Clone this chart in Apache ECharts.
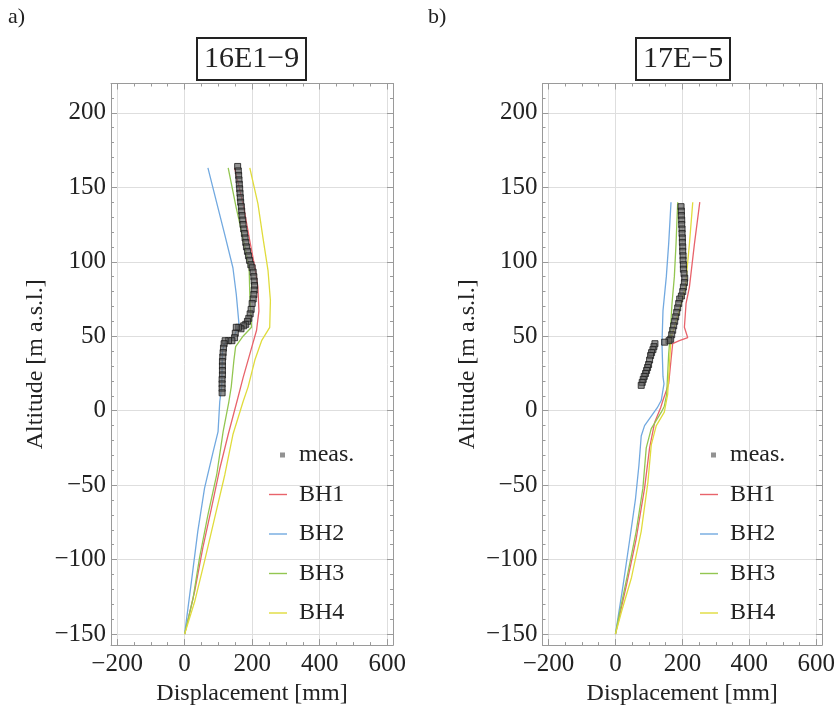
<!DOCTYPE html>
<html>
<head>
<meta charset="utf-8">
<script src="https://cdn.jsdelivr.net/npm/echarts@6/dist/echarts.min.js"></script>
<style>
html,body{margin:0;padding:0;background:#fff;}
#chart{width:838px;height:711px;}
</style>
</head>
<body>
<div id="chart"></div>
<script>
// ---------- DATA (displacement [mm], altitude [m a.s.l.]) ----------
const panelTitles = ['16E1\u22129', '17E\u22125'];
const panelLetters = ['a)', 'b)'];
const seriesNames = ['meas.', 'BH1', 'BH2', 'BH3', 'BH4'];

// Panel a) 16E1-9
const meas_a = [[157,164],[159,161],[160,158],[161,155],[162,152],[163,149],[164,146],[165,143],[166,140],[168,137],[169,134],[170,131],[172,128],[173,125],[175,122],[177,119],[179,116],[181,113],[183,110],[186,107],[189,104],[192,101],[196,98],[200,96],[203,93],[205,90],[206,87],[207,84],[206,81],[205,78],[203,75],[200,72],[197,68],[194,65],[190,62],[186,60],[181,58],[175,57],[167,55],[160,56],[153,56],[150,52],[148,49],[140,47],[130,47],[120,47],[117,45],[115,42],[114,39],[113,36],[112,33],[112,30],[112,27],[112,24],[111,21],[111,18],[111,15],[111,12]];
const bh1_a = [[148,163],[173,139],[193,114],[208,96],[217,83],[220,67],[213,54],[193,38],[173,22],[157,8],[129,-16],[104,-39],[79,-66],[54,-92],[30,-121],[0,-150]];
const bh2_a = [[69,163],[99,136],[119,118],[143,96],[153,78],[161,58],[143,48],[119,46],[112,40],[110,17],[104,6],[99,-14],[84,-28],[59,-52],[39,-81],[20,-115],[0,-150]];
const bh3_a = [[129,163],[153,136],[173,116],[191,96],[193,78],[198,56],[173,50],[151,43],[146,34],[138,16],[131,6],[114,-14],[95,-43],[69,-70],[44,-99],[25,-126],[0,-150]];
const bh4_a = [[193,163],[217,139],[232,116],[247,94],[254,74],[252,56],[228,47],[208,34],[188,16],[173,6],[143,-16],[119,-43],[89,-72],[59,-101],[30,-128],[0,-150]];

// Panel b) 17E-5
const meas_b = [[196,137],[197,134],[197,131],[198,128],[198,125],[199,122],[199,119],[200,116],[200,113],[201,110],[201,107],[202,104],[202,101],[203,98],[203,95],[205,92],[207,89],[206,86],[203,83],[201,80],[197,77],[192,75],[189,72],[186,69],[183,66],[180,63],[177,60],[174,57],[171,54],[168,51],[165,48],[160,47],[147,46],[118,45],[115,43],[112,41],[108,39],[105,37],[102,34],[99,31],[96,29],[93,27],[90,25],[86,23],[83,21],[80,19],[77,17]];
const bh1_b = [[252,140],[236,112],[221,83],[211,72],[206,56],[216,49],[191,47],[171,45],[166,34],[159,18],[142,7],[135,2],[117,-8],[102,-25],[87,-52],[62,-86],[33,-117],[0,-150]];
const bh2_b = [[166,140],[159,112],[152,90],[142,67],[139,45],[142,23],[145,18],[137,7],[125,2],[87,-10],[77,-17],[70,-37],[60,-59],[43,-86],[23,-117],[0,-150]];
const bh3_b = [[186,140],[181,112],[176,90],[169,72],[163,49],[159,38],[153,11],[146,3],[137,-1],[107,-12],[92,-25],[82,-52],[62,-81],[38,-108],[13,-135],[0,-150]];
const bh4_b = [[231,140],[221,112],[209,83],[196,72],[181,60],[166,49],[163,38],[156,11],[146,-1],[122,-10],[107,-23],[97,-48],[77,-81],[48,-112],[18,-135],[0,-150]];

// axis ranges and tick steps
const xRange = [-218, 617];
const yRange = [-157.4, 219.7];
const xSteps = [200, 50];
const ySteps = [50, 10];

// ---------- STYLE ----------
const FONT = '"Liberation Serif", "Times New Roman", serif';
const TXT = '#222';
const FRAME = '#9a9a9a';
const GRIDC = '#dedede';
const colors = {BH1:'#e8636b', BH2:'#72a9e0', BH3:'#93c651', BH4:'#e0dc3c'};

function fmt(v){ return v < 0 ? '\u2212' + Math.abs(v) : String(v); }
function majorLabel(step){
  return function(v){ const r = v/step; return Math.abs(r - Math.round(r)) < 1e-6 ? fmt(Math.round(v)) : ''; };
}

function makeAxes(dim, gridIndex){
  const range = dim === 'x' ? xRange : yRange;
  const steps = dim === 'x' ? xSteps : ySteps;
  const pos = dim === 'x' ? ['bottom','top'] : ['left','right'];
  const base = {type:'value', gridIndex, min:range[0], max:range[1]};
  const major = {
    ...base, position:pos[0], minInterval:steps[0], maxInterval:steps[0], splitNumber:5,
    axisLine:{show:true, onZero:false, lineStyle:{color:FRAME, width:1}},
    axisTick:{show:true, inside:true, length:6, lineStyle:{color:FRAME}},
    axisLabel:{show:true, margin: dim==='x'?7:5, fontSize:25, fontFamily:FONT, color:TXT, formatter:majorLabel(steps[0])},
    splitLine:{show:true, lineStyle:{color:GRIDC, width:1}},
    name: dim==='x' ? 'Displacement [mm]' : 'Altitude [m a.s.l.]',
    nameLocation:'middle', nameGap: dim==='x'?35:63,
    nameTextStyle:{fontSize:24, fontFamily:FONT, color:TXT}
  };
  const minorTicks = (p) => ({
    ...base, position:p, minInterval:steps[1], maxInterval:steps[1], splitNumber:20,
    axisLine:{show:false, onZero:false},
    axisTick:{show:true, inside:true, length:3, lineStyle:{color:FRAME}},
    axisLabel:{show:false}, splitLine:{show:false}
  });
  const opp = {
    ...base, position:pos[1], minInterval:steps[0], maxInterval:steps[0], splitNumber:5,
    axisLine:{show:true, onZero:false, lineStyle:{color:FRAME, width:1}},
    axisTick:{show:true, inside:true, length:6, lineStyle:{color:FRAME}},
    axisLabel:{show:false}, splitLine:{show:false}
  };
  return [major, minorTicks(pos[0]), opp, minorTicks(pos[1])];
}

const panels = [
  {meas:meas_a, lines:[bh1_a,bh2_a,bh3_a,bh4_a]},
  {meas:meas_b, lines:[bh1_b,bh2_b,bh3_b,bh4_b]}
];

const series = [];
panels.forEach((p, gi) => {
  const ax = gi * 4;
  ['BH1','BH2','BH3','BH4'].forEach((nm, k) => {
    series.push({
      type:'line', name:nm, xAxisIndex:ax, yAxisIndex:ax, data:p.lines[k],
      showSymbol:false, symbol:'none', color:colors[nm],
      lineStyle:{color:colors[nm], width:1.3}, z:2, silent:true
    });
  });
  series.push({
    type:'scatter', name:'meas.', xAxisIndex:ax, yAxisIndex:ax, data:p.meas,
    symbol:'rect', symbolSize:6, color:'#666',
    itemStyle:{color:'rgba(95,95,95,0.85)', borderColor:'#1c1c1c', borderWidth:1},
    z:5, silent:true
  });
});

const lineIcon = 'path://M0,6.3L18,6.3L18,7.7L0,7.7Z';
const measIcon = 'path://M0,0L0.01,0Z M18,14L17.99,14Z M11,4.5L16,4.5L16,9.5L11,9.5Z';
function makeLegend(left){
  return {
    left, top:437, orient:'vertical', itemWidth:18, itemHeight:14, itemGap:13.5,
    selectedMode:false,
    textStyle:{fontSize:24, fontFamily:FONT, color:TXT, lineHeight:26, padding:[0,0,0,7]},
    data:[
      {name:'meas.', icon:measIcon, itemStyle:{color:'#777', borderWidth:0}},
      {name:'BH1', icon:lineIcon},
      {name:'BH2', icon:lineIcon},
      {name:'BH3', icon:lineIcon},
      {name:'BH4', icon:lineIcon}
    ]
  };
}

const boxTitle = (text, left) => ({
  text, left, top:38, padding:[5,7,5,7], borderWidth:2, borderColor:'#222',
  textStyle:{fontSize:30, fontFamily:FONT, fontWeight:'normal', color:TXT, lineHeight:32}
});
const letter = (text, left) => ({
  text, left, top:6, padding:0,
  textStyle:{fontSize:22, fontFamily:FONT, fontWeight:'normal', color:TXT}
});

const option = {
  animation:false,
  backgroundColor:'#fff',
  title:[letter(panelLetters[0], 8), letter(panelLetters[1], 428), boxTitle(panelTitles[0], 197), boxTitle(panelTitles[1], 636)],
  grid:[
    {left:111, top:83.5, width:282, height:563.5, containLabel:false},
    {left:542.5, top:83.5, width:281, height:563.5, containLabel:false}
  ],
  xAxis:[...makeAxes('x',0), ...makeAxes('x',1)],
  yAxis:[...makeAxes('y',0), ...makeAxes('y',1)],
  legend:[makeLegend(264), makeLegend(695)],
  series
};

const chart = echarts.init(document.getElementById('chart'), null, {renderer:'canvas'});
chart.setOption(option);
</script>
</body>
</html>
